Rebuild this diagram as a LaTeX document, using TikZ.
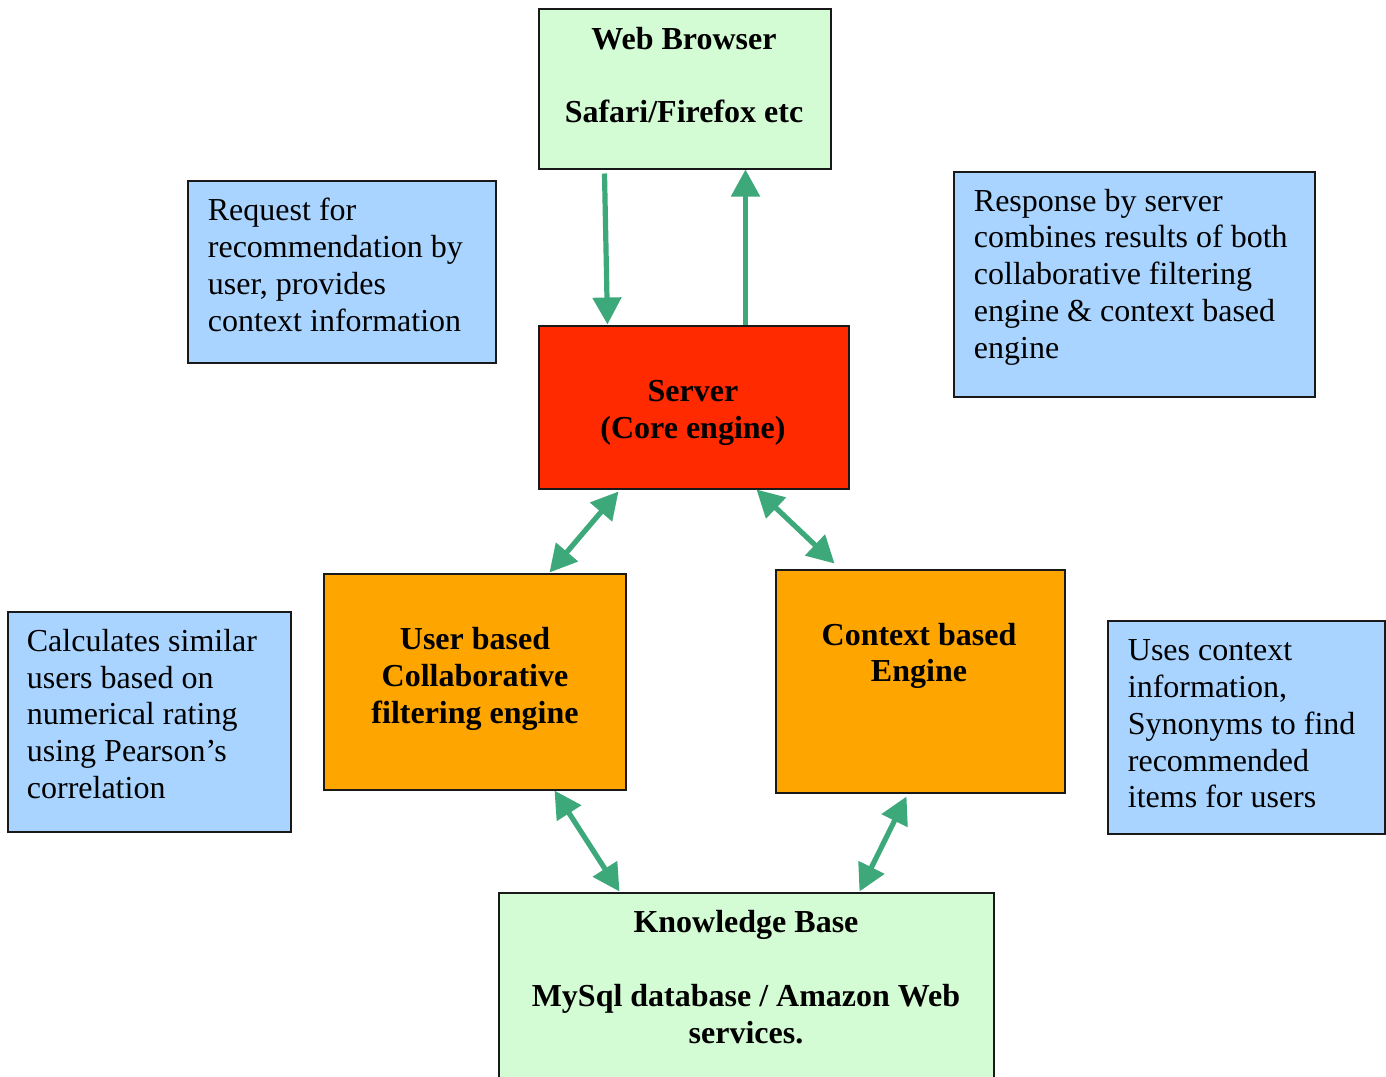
\documentclass[tikz,border=0pt]{standalone}
\usepackage{fontspec}
\setmainfont{Liberation Serif}
\usetikzlibrary{arrows.meta}
\definecolor{lgreen}{HTML}{D4FCD4}
\definecolor{lblue}{HTML}{A8D4FF}
\definecolor{sred}{HTML}{FF2A00}
\definecolor{sorange}{HTML}{FFA500}
\definecolor{agreen}{HTML}{3DA87A}
\tikzset{
  boxn/.style={draw=black!90, line width=1pt, inner sep=0pt, anchor=north west},
  txt/.style={inner sep=0pt, font={\fontsize{16}{18.4}\selectfont}},
  ctxt/.style={txt, align=center, font={\fontsize{16}{18.4}\selectfont\bfseries}},
  ltxt/.style={txt, align=left, anchor=west},
  arr/.style={draw=agreen, line width=2.6pt, -{Triangle[width=14pt,length=13.5pt]}},
  darr/.style={draw=agreen, line width=2.6pt, {Triangle[width=14pt,length=13.5pt]}-{Triangle[width=14pt,length=13.5pt]}}
}
\begin{document}
\begin{tikzpicture}[x=0.5pt,y=-0.5pt]
\useasboundingbox (0,0) rectangle (1386,1076);
% boxes
\node[boxn, fill=lgreen, minimum width=146pt, minimum height=80pt] (web) at (537.5,7.5) {};
\node[boxn, fill=lblue, minimum width=154pt, minimum height=91pt] (req) at (186.5,179.5) {};
\node[boxn, fill=lblue, minimum width=180.5pt, minimum height=112.5pt] (resp) at (952.5,170.5) {};
\node[boxn, fill=sred, minimum width=155pt, minimum height=81.5pt] (srv) at (537.5,324.5) {};
\node[boxn, fill=sorange, minimum width=151pt, minimum height=108pt] (ucf) at (322.5,572.5) {};
\node[boxn, fill=sorange, minimum width=144.5pt, minimum height=111.5pt] (ctx) at (774.5,568.5) {};
\node[boxn, fill=lblue, minimum width=141.5pt, minimum height=110pt] (calc) at (6.5,610.5) {};
\node[boxn, fill=lblue, minimum width=138.5pt, minimum height=106.5pt] (uses) at (1106.5,619.5) {};
\node[boxn, fill=lgreen, minimum width=247.5pt, minimum height=110pt] (kb) at (497.5,891.5) {};
% texts
\node[ctxt] (webt) at (684,75) {Web Browser\\[18.4pt]Safari/Firefox etc};
\node[ctxt] (srvt) at (693,413) {Server\\(Core engine)};
\node[ctxt] (ucft) at (475,679) {User based\\Collaborative\\filtering engine};
\node[ctxt] (ctxtt) at (919,656) {Context based\\Engine};
\node[ctxt] (kbt) at (746,977) {Knowledge Base\\[18.4pt]MySql database / Amazon Web\\services.};
\node[ltxt] (reqt) at (207.5,265) {Request for\\recommendation by\\user, provides\\context information};
\node[ltxt] (respt) at (973.5,277) {Response by server\\combines results of both\\collaborative filtering\\engine \& context based\\engine};
\node[ltxt] (calct) at (26.5,714) {Calculates similar\\users based on\\numerical rating\\using Pearson’s\\correlation};
\node[ltxt] (usest) at (1127.5,724) {Uses context\\information,\\Synonyms to find\\recommended\\items for users};
% connectors
\draw[arr] ([xshift=33.5pt,yshift=-2pt]web.south west) -- ([xshift=35pt]srv.north west);
\draw[arr] ([xshift=104pt]srv.north west) -- ([xshift=104pt]web.south west);
\draw[darr] ([xshift=40.5pt,yshift=-1pt]srv.south west) -- ([xshift=113.5pt]ucf.north west);
\draw[darr] ([xshift=109.5pt]srv.south west) -- ([xshift=30pt,yshift=2.5pt]ctx.north west);
\draw[darr] ([xshift=116pt]ucf.south west) -- ([xshift=61pt]kb.north west);
\draw[darr] ([xshift=66pt,yshift=-1.5pt]ctx.south west) -- ([xshift=181pt]kb.north west);
\end{tikzpicture}
\end{document}
